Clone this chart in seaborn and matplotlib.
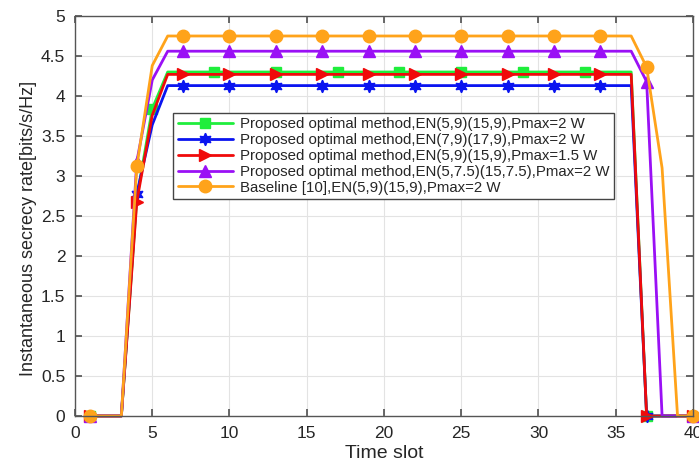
import numpy as np
import pandas as pd
import seaborn as sns
import matplotlib.pyplot as plt

slots = list(range(1, 41))

green_vals = [0, 0, 0, 2.72, 3.84,
              4.30, 4.30, 4.30, 4.30, 4.30, 4.30, 4.30, 4.30, 4.30, 4.30,
              4.30, 4.30, 4.30, 4.30, 4.30, 4.30, 4.30, 4.30, 4.30, 4.30,
              4.30, 4.30, 4.30, 4.30, 4.30, 4.30, 4.30, 4.30, 4.30, 4.30,
              4.30, 0, 0, 0, 0]
blue_vals = [0, 0, 0, 2.78, 3.64,
             4.13, 4.13, 4.13, 4.13, 4.13, 4.13, 4.13, 4.13, 4.13, 4.13,
             4.13, 4.13, 4.13, 4.13, 4.13, 4.13, 4.13, 4.13, 4.13, 4.13,
             4.13, 4.13, 4.13, 4.13, 4.13, 4.13, 4.13, 4.13, 4.13, 4.13,
             4.13, 0, 0, 0, 0]
red_vals = [0, 0, 0, 2.68, 3.76,
            4.27, 4.27, 4.27, 4.27, 4.27, 4.27, 4.27, 4.27, 4.27, 4.27,
            4.27, 4.27, 4.27, 4.27, 4.27, 4.27, 4.27, 4.27, 4.27, 4.27,
            4.27, 4.27, 4.27, 4.27, 4.27, 4.27, 4.27, 4.27, 4.27, 4.27,
            4.27, 0, 0, 0, 0]
purple_vals = [0, 0, 0, 3.18, 4.20,
               4.56, 4.56, 4.56, 4.56, 4.56, 4.56, 4.56, 4.56, 4.56, 4.56,
               4.56, 4.56, 4.56, 4.56, 4.56, 4.56, 4.56, 4.56, 4.56, 4.56,
               4.56, 4.56, 4.56, 4.56, 4.56, 4.56, 4.56, 4.56, 4.56, 4.56,
               4.56, 4.18, 0, 0, 0]
orange_vals = [0, 0, 0, 3.12, 4.38,
               4.75, 4.75, 4.75, 4.75, 4.75, 4.75, 4.75, 4.75, 4.75, 4.75,
               4.75, 4.75, 4.75, 4.75, 4.75, 4.75, 4.75, 4.75, 4.75, 4.75,
               4.75, 4.75, 4.75, 4.75, 4.75, 4.75, 4.75, 4.75, 4.75, 4.75,
               4.75, 4.36, 3.10, 0, 0]

labels = [
    "Proposed optimal method,EN(5,9)(15,9),Pmax=2 W",
    "Proposed optimal method,EN(7,9)(17,9),Pmax=2 W",
    "Proposed optimal method,EN(5,9)(15,9),Pmax=1.5 W",
    "Proposed optimal method,EN(5,7.5)(15,7.5),Pmax=2 W",
    "Baseline [10],EN(5,9)(15,9),Pmax=2 W",
]

sns.set_theme(style="ticks")
plt.rcParams["font.family"] = ["Liberation Sans", "DejaVu Sans"]

fig = plt.figure(figsize=(6.99, 4.65), dpi=100)
ax = fig.add_axes([0.1073, 0.1054, 0.8841, 0.8602])

series = [
    (green_vals, "#1fee3c", "s", 7, 4),
    (blue_vals, "#0a14f0", (6, 1, 0), 9, 3),
    (red_vals, "#f00a0a", ">", 9, 3),
    (purple_vals, "#9a10f5", "^", 9, 3),
    (orange_vals, "#ffa31a", "o", 9, 3),
]

for (vals, col, mk, ms, every), lab in zip(series, labels):
    sns.lineplot(x=slots, y=vals, ax=ax, color=col, lw=2, marker=mk,
                 ms=ms, mec=col, mfc=col, mew=1, markevery=every,
                 label=lab, clip_on=False)

ax.set_xlim(0, 40)
ax.set_ylim(0, 5)
ax.set_xticks(np.arange(0, 41, 5))
ax.set_yticks(np.arange(0, 5.01, 0.5))
ax.set_yticklabels(["0", "0.5", "1", "1.5", "2", "2.5", "3", "3.5", "4", "4.5", "5"])
ax.grid(True, color="#e3e3e3", lw=0.8)
for s in ax.spines.values():
    s.set_visible(True)
    s.set_color("#555555")
    s.set_linewidth(1)
ax.tick_params(direction="in", top=True, right=True, length=5, pad=7,
               labelsize=12.5, colors="#555555", labelcolor="#262626")
ax.set_xlabel("Time slot", fontsize=14, color="#262626")
ax.set_ylabel("Instantaneous secrecy rate[bits/s/Hz]", fontsize=13,
              color="#262626")
ax.xaxis.set_label_coords(0.5, -0.072)
ax.yaxis.set_label_coords(-0.062, 0.47)

leg = ax.legend(loc="upper left", bbox_to_anchor=(0.1586, 0.7575),
                borderaxespad=0, fontsize=10.8, frameon=True, fancybox=False,
                framealpha=1, edgecolor="#444444", handlelength=3.7,
                handletextpad=0.45, labelspacing=0.12, borderpad=0.3,
                numpoints=1)
leg.get_frame().set_linewidth(1)

fig.savefig("out.png", dpi=100)
